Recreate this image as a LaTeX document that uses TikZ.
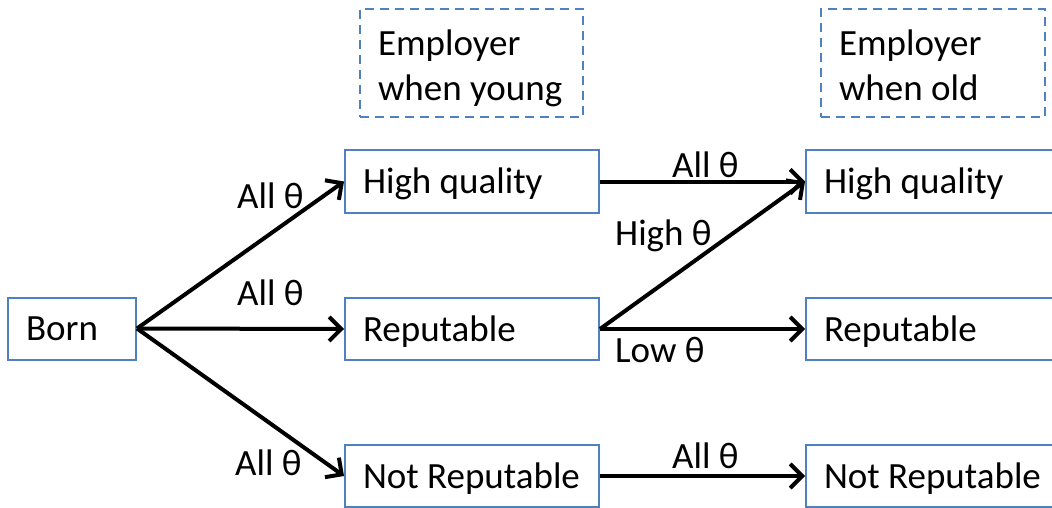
\documentclass[tikz,border=0pt]{standalone}
\usepackage{fontspec}
\setmainfont{Carlito}
\usetikzlibrary{arrows.meta}
\definecolor{boxblue}{RGB}{79,129,189}
% left-aligned line of fixed width, baseline 12pt below the node centre
\newcommand{\boxtext}[2]{\raisebox{-12pt}[0pt][0pt]{\makebox[#1][l]{#2}}}
% two-line heading, first baseline 7pt above the node centre
\newcommand{\headtext}[3]{\raisebox{7pt}[0pt][0pt]{%
  \begin{tabular}[t]{@{}l@{}}\makebox[#1][l]{#2}\\#3\end{tabular}}}
\begin{document}
\begin{tikzpicture}[x=1pt,y=-1pt,
  every node/.style={font=\fontsize{37}{45}\selectfont},
  state/.style={draw=boxblue, line width=2pt, rectangle, minimum height=62pt,
    inner xsep=18pt, inner ysep=0pt},
  phase/.style={draw=boxblue, line width=2.4pt, dash pattern=on 9pt off 6pt,
    rectangle, minimum height=108pt, inner xsep=18pt, inner ysep=0pt},
  flow/.style={line width=4pt, -{Straight Barb[length=12pt,width=24pt]}},
  lbl/.style={anchor=base west, inner sep=0pt}
]
\useasboundingbox (0,0) rectangle (1052,508);

% column headings
\node[phase] (hy) at (471.5,63) {\headtext{187pt}{Employer}{when young}};
\node[phase] (ho) at (933,63)   {\headtext{188pt}{Employer}{when old}};

% origin
\node[state] (born) at (72,328.5) {\boxtext{92pt}{Born}};

% employer when young
\node[state] (hqy) at (472,181.5) {\boxtext{218pt}{High quality}};
\node[state] (ry)  at (472,329)   {\boxtext{218pt}{Reputable}};
\node[state] (nry) at (472,476)   {\boxtext{218pt}{Not Reputable}};

% employer when old (boxes run past the right edge)
\node[state] (hqo) at (938,181.5) {\boxtext{228pt}{High quality}};
\node[state] (ro)  at (938,329)   {\boxtext{228pt}{Reputable}};
\node[state] (nro) at (938,476)   {\boxtext{228pt}{Not Reputable}};

% transitions
\draw[flow] (born.east) -- (hqy.west);
\draw[flow] (born.east) -- (ry.west);
\draw[flow] (born.east) -- (nry.west);
\draw[flow] (hqy.east) -- (hqo.west);
\draw[flow] (ry.east) -- (hqo.west);
\draw[flow] (ry.east) -- (ro.west);
\draw[flow] (nry.east) -- (nro.west);

% transition labels
\node[lbl] (l1) at (237,208) {All θ};
\node[lbl] (l2) at (237,305) {All θ};
\node[lbl] (l3) at (235,475) {All θ};
\node[lbl] (l4) at (672,178) {All θ};
\node[lbl] (l5) at (615,245) {High θ};
\node[lbl] (l6) at (615,362) {Low θ};
\node[lbl] (l7) at (672,468) {All θ};
\end{tikzpicture}
\end{document}
